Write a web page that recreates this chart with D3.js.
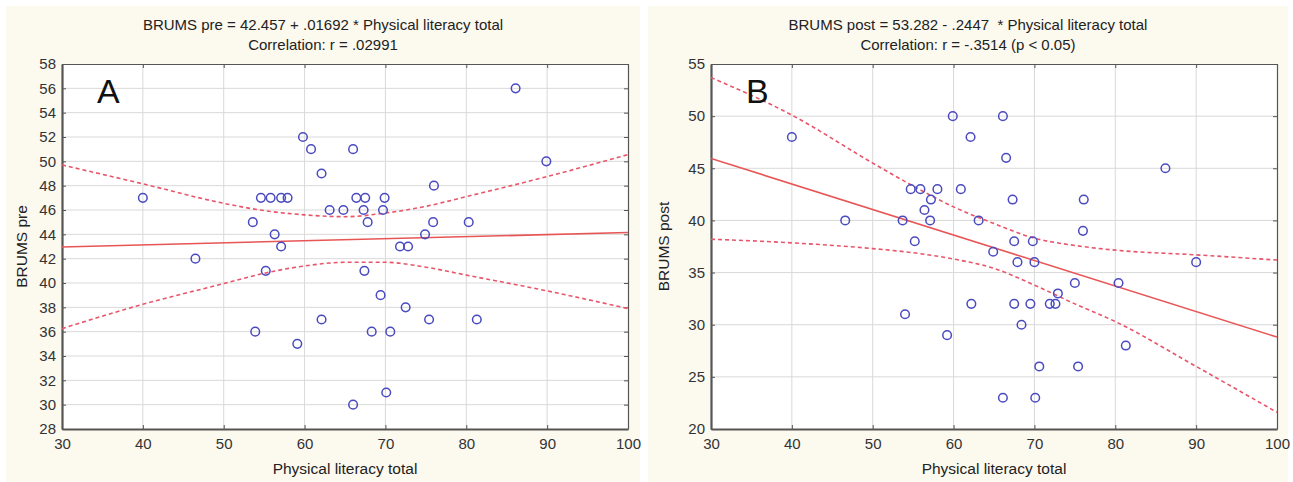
<!DOCTYPE html>
<html><head><meta charset="utf-8">
<script src="https://cdn.jsdelivr.net/npm/d3@7"></script>
<style>
body{margin:0;background:#fff;}
svg{display:block;}
text{font-family:"Liberation Sans",Arial,sans-serif;white-space:pre;}
</style></head>
<body><svg id="c" width="1293" height="482"></svg>
<script>
// ---- Data ----
const plX_A = [40,46.5,53.6,54.6,55.8,57.1,57.9,56.3,57.1,55.2,59.8,60.8,62.1,63.1,66.0,66.4,67.5,69.9,64.8,67.3,69.7,67.8,76.0,75.9,80.3,74.9,71.8,72.8,86.1,89.9,67.4,53.9,59.1,62.1,69.4,72.5,75.4,81.3,68.3,70.6,70.1,66.0];
const brumsPre = [47,42,45,47,47,47,47,44,43,41,52,51,49,46,51,47,47,47,46,46,46,45,48,45,45,44,43,43,56,50,41,36,35,37,39,38,37,37,36,36,31,30];
const plX_B = [40,46.6,53.7,54.7,55.9,58.0,57.2,56.4,57.1,55.2,59.9,62.1,60.9,63.1,66.1,66.5,67.3,76.1,86.2,76.0,67.5,69.8,64.9,67.9,70.0,90.0,75.0,80.4,72.9,62.2,67.5,69.5,71.9,72.6,68.4,81.3,70.6,75.4,66.1,70.1,54.0,59.2];
const brumsPost = [48,40,40,43,43,43,42,41,40,38,50,48,43,40,50,46,42,42,45,39,38,38,37,36,36,36,34,34,33,32,32,32,32,32,30,28,26,26,23,23,31,29];

const bandX = [30,40,50,55,60,65,70,75,80,90,100];
const preUpper = [49.7,48.15,46.55,45.95,45.6,45.45,45.75,46.3,47.1,48.75,50.55];
const preLower = [36.25,38.25,39.95,40.8,41.4,41.7,41.7,41.3,40.65,39.35,37.9];
const postUpper = [53.7,50.1,45.5,43.3,41.3,39.7,38.3,37.6,37.15,36.7,36.2];
const postLower = [38.2,37.85,37.3,36.9,36.3,35.4,33.8,32.0,30.3,26.0,21.6];

const preFit = {a:42.457, b:0.01692};
const postFit = {a:53.282, b:-0.2447};

const xTicks = [30,40,50,60,70,80,90,100];
const yTicksA = [28,30,32,34,36,38,40,42,44,46,48,50,52,54,56,58];
const yTicksB = [20,25,30,35,40,45,50,55];

const titlesA = ["BRUMS pre = 42.457 + .01692 * Physical literacy total","Correlation: r = .02991"];
const titlesB = ["BRUMS post = 53.282 - .2447  * Physical literacy total","Correlation: r = -.3514 (p < 0.05)"];

// ---- Drawing ----
const svg = d3.select("#c");

function panel(opt){
  const g = svg.append("g");
  g.append("rect").attr("x",opt.px).attr("y",6).attr("width",opt.pw).attr("height",476).attr("fill","#fcf9ef");
  const x = d3.scaleLinear().domain([30,100]).range([opt.x0,opt.x0+566]);
  const y = d3.scaleLinear().domain(opt.ydom).range([429,64]);
  g.append("rect").attr("x",x(30)).attr("y",y.range()[1]).attr("width",x(100)-x(30)).attr("height",429-64).attr("fill","#fff");
  // grid
  g.selectAll(".gx").data(xTicks.slice(1,-1)).join("line")
    .attr("x1",d=>x(d)).attr("x2",d=>x(d)).attr("y1",64).attr("y2",429)
    .attr("stroke","#d9d9d9").attr("stroke-width",1);
  g.selectAll(".gy").data(opt.yticks.slice(1,-1)).join("line")
    .attr("y1",d=>y(d)).attr("y2",d=>y(d)).attr("x1",x(30)).attr("x2",x(100))
    .attr("stroke","#d9d9d9").attr("stroke-width",1);
  // axes
  const ax = g.append("g").attr("transform",`translate(0,429)`)
    .call(d3.axisBottom(x).tickValues(xTicks).tickSizeInner(-4).tickSizeOuter(0).tickPadding(9));
  const ay = g.append("g").attr("transform",`translate(${x(30)},0)`)
    .call(d3.axisLeft(y).tickValues(opt.yticks).tickSizeInner(-4).tickSizeOuter(0).tickPadding(6));
  const at = g.append("g").attr("transform",`translate(0,64)`)
    .call(d3.axisTop(x).tickValues(xTicks).tickSizeInner(-4).tickSizeOuter(0).tickFormat(""));
  const ar = g.append("g").attr("transform",`translate(${x(100)},0)`)
    .call(d3.axisRight(y).tickValues(opt.yticks).tickSizeInner(-4).tickSizeOuter(0).tickFormat(""));
  [ax,ay].forEach(a=>{
    a.select(".domain").attr("stroke","#555").attr("stroke-width",2.2);
    a.selectAll(".tick line").attr("stroke","#555");
    a.selectAll("text").attr("font-size",15).attr("fill","#333").attr("font-family","'Liberation Sans',Arial,sans-serif");
  });
  [at,ar].forEach(a=>{
    a.select(".domain").attr("stroke","#555").attr("stroke-width",1.2);
    a.selectAll(".tick line").attr("stroke","#555");
  });
  // lines
  const clip = "clip"+opt.px;
  g.append("clipPath").attr("id",clip).append("rect").attr("x",x(30)).attr("y",64).attr("width",566).attr("height",365);
  const lg = g.append("g").attr("clip-path",`url(#${clip})`);
  const band = d3.line().x((d,i)=>x(bandX[i])).y(d=>y(d)).curve(d3.curveMonotoneX);
  [opt.upper,opt.lower].forEach(arr=>{
    lg.append("path").attr("d",band(arr)).attr("fill","none").attr("stroke","#e8566a")
      .attr("stroke-width",1.6).attr("stroke-dasharray","4,3");
  });
  lg.append("line").attr("x1",x(30)).attr("x2",x(100))
    .attr("y1",y(opt.fit.a+opt.fit.b*30)).attr("y2",y(opt.fit.a+opt.fit.b*100))
    .attr("stroke","#e85555").attr("stroke-width",1.6);
  // points
  g.selectAll(".pt").data(opt.xs).join("circle")
    .attr("cx",d=>x(d)).attr("cy",(d,i)=>y(opt.ys[i])).attr("r",4.3)
    .attr("fill","none").attr("stroke","#4a4ac0").attr("stroke-width",1.5);
  // titles
  const cx = opt.px + opt.pw/2;
  g.append("text").attr("x",cx).attr("y",30).attr("text-anchor","middle").attr("font-size",15).attr("fill","#222").text(opt.titles[0]);
  g.append("text").attr("x",cx).attr("y",50).attr("text-anchor","middle").attr("font-size",15).attr("fill","#222").text(opt.titles[1]);
  g.append("text").attr("x",(x(30)+x(100))/2).attr("y",474).attr("text-anchor","middle").attr("font-size",15.5).attr("fill","#222").text("Physical literacy total");
  g.append("text").attr("transform",`translate(${opt.px+21},${(64+429)/2}) rotate(-90)`).attr("text-anchor","middle").attr("font-size",15.5).attr("fill","#222").text(opt.ylabel);
  g.append("text").attr("x",x(30)+35).attr("y",103).attr("font-size",34).attr("fill","#111").attr("font-family","'Open Sans',sans-serif").text(opt.letter);
}

panel({px:6,pw:634,x0:62,ydom:[28,58],yticks:yTicksA,xs:plX_A,ys:brumsPre,upper:preUpper,lower:preLower,fit:preFit,titles:titlesA,ylabel:"BRUMS pre",letter:"A"});
panel({px:648,pw:640,x0:711,ydom:[20,55],yticks:yTicksB,xs:plX_B,ys:brumsPost,upper:postUpper,lower:postLower,fit:postFit,titles:titlesB,ylabel:"BRUMS post",letter:"B"});
</script></body></html>
